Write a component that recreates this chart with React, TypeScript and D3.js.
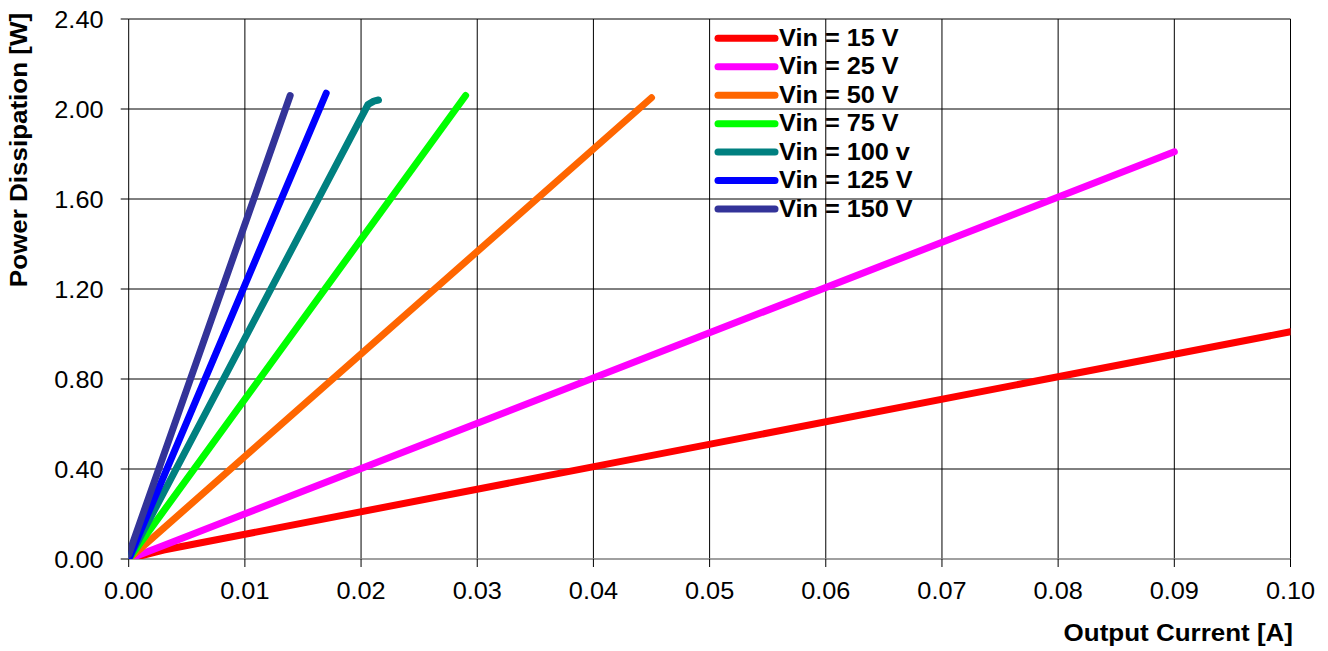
import * as d3 from 'd3'

// series: Vin levels, each a list of [current A, power W]
const vin15: [number, number][] = [[0, 0], [0.003, 0.04], [0.1, 1.01]]
const vin25: [number, number][] = [[0, 0], [0.003, 0.06], [0.09, 1.81]]
const vin50: [number, number][] = [[0, 0], [0.045, 2.05]]
const vin75: [number, number][] = [[0, 0], [0.029, 2.06]]
const vin100: [number, number][] = [[0, 0], [0.0206, 2.02], [0.0211, 2.035], [0.0215, 2.04]]
const vin125: [number, number][] = [[0, 0], [0.017, 2.07]]
const vin150: [number, number][] = [[0, 0.02], [0.0139, 2.06]]

const seriesNames = ['Vin = 15 V', 'Vin = 25 V', 'Vin = 50 V', 'Vin = 75 V', 'Vin = 100 v', 'Vin = 125 V', 'Vin = 150 V']
const seriesColors = ['#ff0000', '#ff00ff', '#ff6600', '#00ff00', '#008080', '#0000ff', '#333399']
const seriesData = [vin15, vin25, vin50, vin75, vin100, vin125, vin150]

const xTicks = [0, 0.01, 0.02, 0.03, 0.04, 0.05, 0.06, 0.07, 0.08, 0.09, 0.1]
const yTicks = [0, 0.4, 0.8, 1.2, 1.6, 2.0, 2.4]

const width = 1328
const height = 651
const left = 128.7
const right = 1290.5
const top = 19
const bottom = 559
const font = '"Liberation Sans", Arial, sans-serif'
const sx = 1.1

export default function App() {
	const x = d3.scaleLinear().domain([0, 0.1]).range([left, right])
	const y = d3.scaleLinear().domain([0, 2.4]).range([bottom, top])
	const line = d3
		.line<[number, number]>()
		.x((d) => x(d[0]))
		.y((d) => y(d[1]))

	return (
		<svg
			width={width}
			height={height}
			style={{ position: 'absolute', left: 0, top: 0, background: '#fff' }}
		>
			<defs>
				<clipPath id="plot">
					<rect x={left} y={0} width={right - left} height={bottom} />
				</clipPath>
			</defs>
			<rect x={0} y={0} width={width} height={height} fill="#fff" />

			{/* grid */}
			{xTicks.slice(1).map((t) => (
				<line key={'gx' + t} x1={x(t)} x2={x(t)} y1={top} y2={bottom} stroke="#000" strokeWidth={1} />
			))}
			{yTicks.slice(1).map((t) => (
				<line key={'gy' + t} x1={left} x2={right} y1={y(t)} y2={y(t)} stroke="#000" strokeWidth={1} />
			))}

			{/* axes */}
			<line x1={left} x2={left} y1={top} y2={bottom} stroke="#000" strokeWidth={1} />
			<line x1={left} x2={right} y1={bottom} y2={bottom} stroke="#808080" strokeWidth={1.5} />
			{yTicks.map((t) => (
				<g key={'ty' + t}>
					<line x1={left - 8} x2={left} y1={y(t)} y2={y(t)} stroke="#000" />
					<text
						transform={`translate(103.5,${y(t) + 9}) scale(${sx},1)`}
						textAnchor="end"
						fontFamily={font}
						fontSize={23}
						fill="#000"
					>
						{t.toFixed(2)}
					</text>
				</g>
			))}
			{xTicks.map((t) => (
				<g key={'tx' + t}>
					<line x1={x(t)} x2={x(t)} y1={bottom} y2={bottom + 8} stroke="#000" />
					<text
						transform={`translate(${x(t)},599) scale(${sx},1)`}
						textAnchor="middle"
						fontFamily={font}
						fontSize={23}
						fill="#000"
					>
						{t.toFixed(2)}
					</text>
				</g>
			))}

			{/* axis titles */}
			<text
				transform={`translate(1293,641) scale(1.13,1)`}
				textAnchor="end"
				fontFamily={font}
				fontSize={23}
				fontWeight="bold"
			>
				Output Current [A]
			</text>
			<text
				transform={`translate(27,150) rotate(-90) scale(1.13,1)`}
				textAnchor="middle"
				fontFamily={font}
				fontSize={23}
				fontWeight="bold"
			>
				Power Dissipation [W]
			</text>

			{/* series */}
			<g clipPath="url(#plot)">
				{seriesData.map((d, i) => (
					<path
						key={seriesNames[i]}
						d={line(d) || ''}
						fill="none"
						stroke={seriesColors[i]}
						strokeWidth={7}
						strokeLinecap="round"
						strokeLinejoin="round"
					/>
				))}
			</g>

			{/* legend */}
			{seriesNames.map((name, i) => {
				const cy = 38.3 + i * 28.45
				return (
					<g key={'lg' + name}>
						<line x1={718} x2={775} y1={cy} y2={cy} stroke={seriesColors[i]} strokeWidth={7} strokeLinecap="round" />
						<text
							transform={`translate(779,${cy + 7.6}) scale(${sx},1)`}
							fontFamily={font}
							fontSize={23}
							fontWeight="bold"
							fill="#000"
						>
							{name}
						</text>
					</g>
				)
			})}
		</svg>
	)
}
